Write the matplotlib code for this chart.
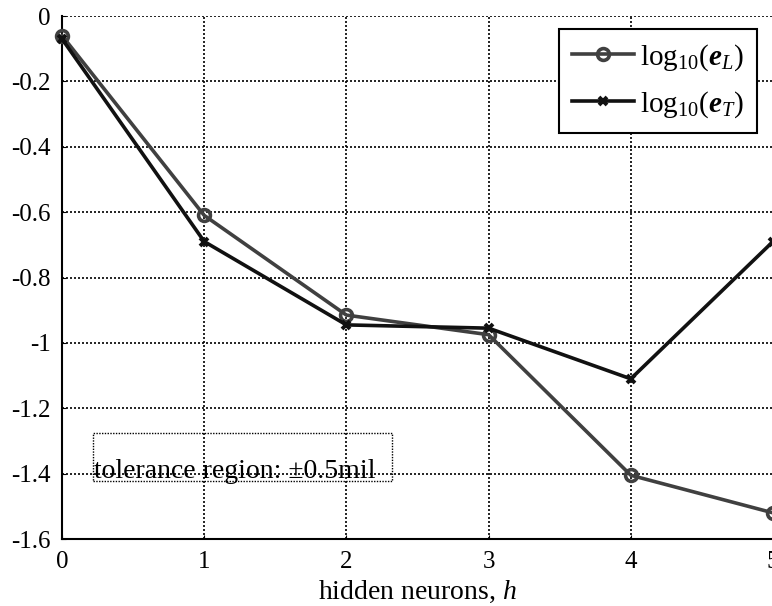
import matplotlib
matplotlib.use("Agg")

import matplotlib.pyplot as plt
from matplotlib.patches import Rectangle

# hidden layer size vs. log10 of the errors
neurons = [0, 1, 2, 3, 4, 5]
log_eL = [-0.06, -0.61, -0.915, -0.975, -1.405, -1.52]
log_eT = [-0.07, -0.69, -0.945, -0.955, -1.11, -0.69]
y_ticks = [0, -0.2, -0.4, -0.6, -0.8, -1, -1.2, -1.4, -1.6]
y_tick_labels = ["0", "-0.2", "-0.4", "-0.6", "-0.8", "-1", "-1.2", "-1.4", "-1.6"]

plt.rcParams["font.family"] = ["Liberation Serif", "DejaVu Serif"]
plt.rcParams["mathtext.fontset"] = "custom"
plt.rcParams["mathtext.rm"] = "Liberation Serif"
plt.rcParams["mathtext.it"] = "Liberation Serif:italic"
plt.rcParams["mathtext.bf"] = "Liberation Serif:bold:italic"

fig = plt.figure(figsize=(7.72, 6.06), dpi=100)
ax = fig.add_axes([62 / 772, 1 - 539 / 606, 711 / 772, 523 / 606])

ax.plot(neurons, log_eL, color="#404040", lw=2.6, marker="o", ms=8.5,
        mfc="none", mew=2.6, label=r"$\mathrm{log}_{10}(\mathbf{e}_{L})$",
        clip_on=False, zorder=4)
ax.plot(neurons, log_eT, color="#111111", lw=2.6, marker="x", ms=6,
        mew=2.8, label=r"$\mathrm{log}_{10}(\mathbf{e}_{T})$",
        clip_on=False, zorder=5)

ax.set_xlim(0, 5)
ax.set_ylim(-1.6, 0)
ax.set_xticks(neurons)
ax.set_yticks(y_ticks)
ax.set_yticklabels(y_tick_labels)
ax.tick_params(direction="in", length=3, labelsize=18, colors="black")
ax.tick_params(axis="x", pad=9)
ax.tick_params(axis="y", pad=8)
ax.grid(True, color="black", linestyle=(0, (1.2, 1.2)), linewidth=1.2)
ax.set_axisbelow(True)
for s in ["top", "right"]:
    ax.spines[s].set_visible(False)
for s in ["left", "bottom"]:
    ax.spines[s].set_linewidth(1.5)
ax.set_xlabel(r"hidden neurons, $h$", fontsize=20, labelpad=4)

# tolerance note
ax.add_patch(Rectangle((0.22, -1.422), 2.1, 0.147, fill=False, edgecolor="black",
                       linestyle=(0, (1, 1)), linewidth=1.0, zorder=3))
ax.text(0.225, -1.395, "tolerance region: \u00b10.5mil", fontsize=20, va="center",
        ha="left", zorder=3)

leg = ax.legend(loc="upper right", bbox_to_anchor=(0.977, 0.975), fontsize=21,
                fancybox=False, framealpha=1, edgecolor="black", borderaxespad=0,
                handlelength=2.1, handletextpad=0.2, borderpad=0.45, labelspacing=0.55)
leg.get_frame().set_linewidth(1.5)

plt.savefig("out.png", dpi=100)
